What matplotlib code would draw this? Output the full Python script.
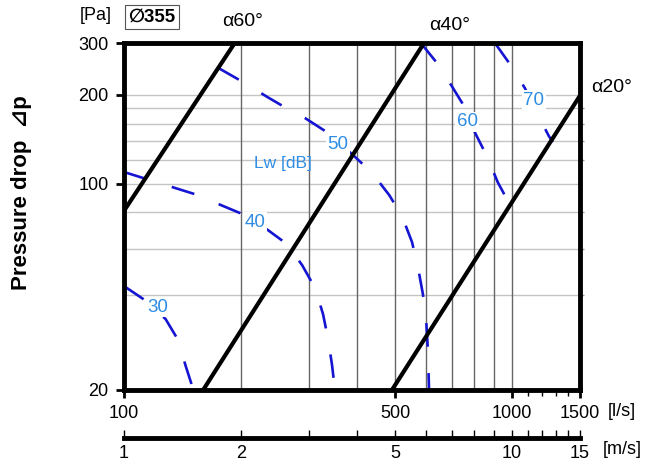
"""
Pressure drop chart for a ⌀355 damper
Lw sound power curves over flow, with blade angle lines
"""

import matplotlib
matplotlib.use('Agg')
import matplotlib.pyplot as plt
from matplotlib.ticker import NullFormatter

plt.rcParams['font.family'] = ['Liberation Sans', 'DejaVu Sans']
plt.rcParams['lines.scale_dashes'] = False

# Axis ranges and ticks
flow_range = (100, 1500)          # l/s
pressure_range = (20, 300)        # Pa
flow_ticks = [100, 500, 1000, 1500]
flow_minor = [1100, 1200, 1300, 1400]
pressure_ticks = [20, 100, 200, 300]
velocity_ticks = [1, 2, 5, 10, 15]
velocity_minor = [3, 4, 6, 7, 8, 9, 11, 12, 13, 14]

# Grid lines
grid_flow = [200, 300, 400, 500, 600, 700, 800, 900, 1000]
grid_pressure = [42, 60, 80, 100, 120, 140, 160, 180, 200]

# Blade angle lines (flow, pressure) end points
angle_names = ['α60°', 'α40°', 'α20°']
angle_flow = [[100, 193], [160, 594], [491, 1500]]
angle_pressure = [[81, 300], [20, 300], [20, 199]]

# Lw [dB] curves
lw_levels = ['30', '40', '50', '60', '70']
lw_flow = [
    [100, 113, 128, 138, 144, 151],
    [100, 110, 152, 199, 235, 263, 288, 311, 326, 336, 344, 350],
    [175, 203, 234, 265, 293, 330, 390, 436, 483, 521, 553, 573, 590, 601, 608, 612],
    [583, 641, 701, 758, 804, 863, 921, 989],
    [905, 1001, 1081, 1161, 1247, 1277],
]
lw_pressure = [
    [45, 40.4, 34.8, 29.5, 24.3, 20],
    [109.6, 105.4, 92.3, 79.6, 69.7, 62.5, 53, 44.3, 36.2, 29.8, 24.3, 20],
    [247, 221, 197, 179, 167, 151, 125, 109, 91.6, 77.8, 63.5, 52.2, 42.3, 35.1, 27.3, 20],
    [300, 257, 214, 181, 149, 124, 101, 85],
    [300, 249, 211, 174, 145, 138.5],
]
label_flow = [122, 218, 356, 767, 1141]
label_pressure = [38.2, 74.2, 136, 162, 192]

W, H = 669, 471
BLUE = '#1414d2'
LABEL_BLUE = '#2f8de4'


def px(x, y):
    """pixel position -> figure fraction"""
    return x / W, 1 - y / H


fig = plt.figure(figsize=(W / 100, H / 100), dpi=100)
ax = fig.add_axes([124 / W, 1 - 390 / H, 456 / W, 347 / H])
ax.set_xscale('log')
ax.set_yscale('log')
ax.set_xlim(*flow_range)
ax.set_ylim(*pressure_range)

# grid
ax.hlines(grid_pressure, *flow_range, color='#c4c4c4', lw=1, zorder=1)
ax.vlines(grid_flow, *pressure_range, color='#666666', lw=1, zorder=1)

# Lw curves
for fl, pr in zip(lw_flow, lw_pressure):
    ax.plot(fl, pr, color=BLUE, lw=1.9, dashes=(17, 19), zorder=3)
for lab, fl, pr in zip(lw_levels, label_flow, label_pressure):
    ax.text(fl, pr, lab, color=LABEL_BLUE, fontsize=13.5, ha='center', va='center',
            bbox=dict(facecolor='white', edgecolor='none', pad=1), zorder=5)
ax.text(257, 117.5, 'Lw [dB]', color=LABEL_BLUE, fontsize=12.5,
        ha='center', va='center', zorder=5)

# blade angle lines
for fl, pr in zip(angle_flow, angle_pressure):
    ax.plot(fl, pr, color='black', lw=3, solid_capstyle='butt', zorder=4)

angle_pos = [(243, 22), (450, 25), (612, 88)]
for name, (x, y) in zip(angle_names, angle_pos):
    fig.text(*px(x, y), name, fontsize=14, ha='center', va='center')

# spines / ticks
for s in ax.spines.values():
    s.set_linewidth(3.5)
    s.set_zorder(6)

ax.set_xticks(flow_ticks)
ax.set_xticklabels([str(v) for v in flow_ticks])
ax.set_xticks(flow_minor, minor=True)
ax.xaxis.set_minor_formatter(NullFormatter())
ax.set_yticks(pressure_ticks)
ax.set_yticklabels([str(v) for v in pressure_ticks])
ax.set_yticks(grid_pressure, minor=True)
ax.yaxis.set_minor_formatter(NullFormatter())

ax.tick_params(axis='both', which='major', direction='out', length=6, width=2,
               labelsize=13, pad=5)
ax.tick_params(axis='x', which='minor', direction='out', length=4, width=1)
ax.tick_params(axis='y', which='minor', left=False, right=True, direction='out',
               length=3, width=1, color='#999999')

fig.text(*px(622, 412), '[l/s]', fontsize=13, ha='center', va='center')

# velocity bar
bax = fig.add_axes([124 / W, 1 - 438 / H, 456 / W, 0.0005])
bax.set_xscale('log')
bax.set_xlim(velocity_ticks[0], velocity_ticks[-1])
for name, s in bax.spines.items():
    s.set_visible(name == 'bottom')
bax.spines['bottom'].set_linewidth(3.5)
bax.set_yticks([])
bax.set_xticks(velocity_ticks)
bax.set_xticklabels([str(v) for v in velocity_ticks])
bax.set_xticks(velocity_minor, minor=True)
bax.xaxis.set_minor_formatter(NullFormatter())
bax.tick_params(axis='x', which='both', direction='in', length=6, width=1,
                labelsize=13, pad=5)
bax.patch.set_visible(False)
fig.text(*px(622, 450), '[m/s]', fontsize=13, ha='center', va='center')

# titles
fig.text(*px(22, 193), 'Pressure drop  ⊿p', rotation=90, fontsize=16,
         fontweight='bold', ha='center', va='center')
fig.text(*px(96, 16), '[Pa]', fontsize=13, ha='center', va='center')
fig.text(*px(152, 17), '∅355', fontsize=13.5, fontweight='bold', ha='center',
         va='center', bbox=dict(facecolor='white', edgecolor='#555555', lw=0.8,
                                boxstyle='square,pad=0.2'))

fig.savefig('out.png', dpi=100)
